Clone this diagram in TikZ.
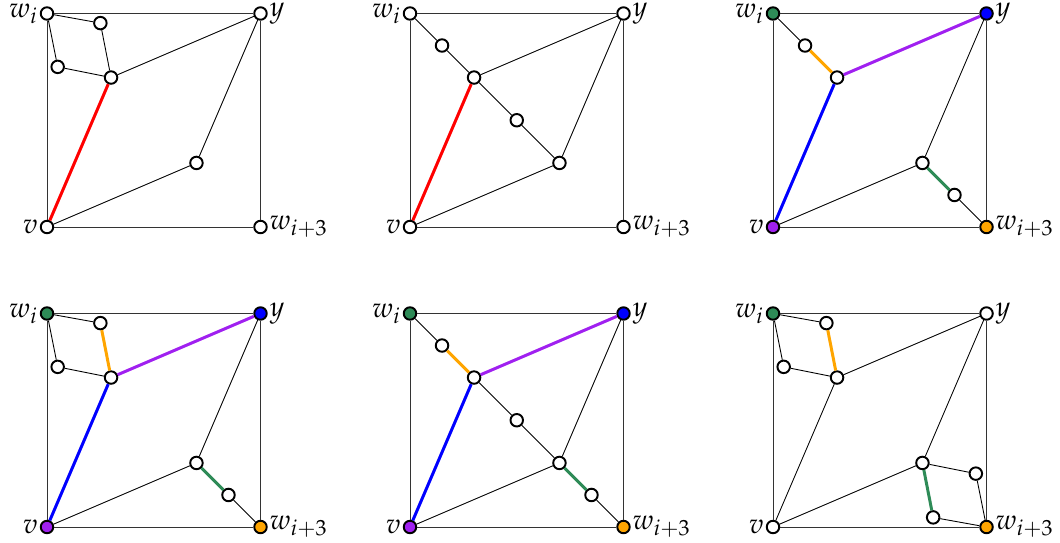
\documentclass[tikz,border=0pt]{standalone}
\usepackage{mathpazo}
\usetikzlibrary{positioning}
\DeclareMathSizes{16}{16}{12.5}{10}

\definecolor{vpurple}{RGB}{160,32,240}
\definecolor{vorange}{RGB}{255,165,0}
\definecolor{vgreen}{RGB}{46,139,87}

\begin{document}
\begin{tikzpicture}[
  vtx/.style   = {circle, draw, line width=1.1pt, fill=white, inner sep=0pt,
                  minimum size=0.25cm},
  lbl/.style   = {inner sep=1pt, font=\fontsize{16}{18}\selectfont},
  frame/.style = {line width=0.5pt, black!80},
  edge/.style  = {line width=0.5pt},
  hot/.style   = {line width=1.7pt},
  node distance = 0pt
]
\useasboundingbox (0,0) rectangle (21.2,10.86);

% ── Panel 1 (top left) ───────────────────────────────────────────────────────
\begin{scope}[shift={(0.94,6.32)}, scale=4.27]
  \node[vtx] (tl-v) at (0,0) {};
  \node[vtx] (tl-w) at (0,1) {};
  \node[vtx] (tl-y) at (1,1) {};
  \node[vtx] (tl-z) at (1,0) {};
  \node[vtx] (tl-a) at (0.25,0.955) {};
  \node[vtx] (tl-b) at (0.05,0.75) {};
  \node[vtx] (tl-c) at (0.30,0.70) {};
  \node[vtx] (tl-d) at (0.70,0.30) {};
\end{scope}
\node[lbl, left=of tl-w]  (tl-wl) {$w_i$};
\node[lbl, right=of tl-y] (tl-yl) {$y$};
\node[lbl, left=of tl-v]  (tl-vl) {$v$};
\node[lbl, right=of tl-z] (tl-zl) {$w_{i+3}$};
\draw[frame] (tl-w) -- (tl-y) -- (tl-z) -- (tl-v) -- (tl-w);
\draw[edge] (tl-w) -- (tl-a) -- (tl-c) -- (tl-b) -- (tl-w);
\draw[edge] (tl-c) -- (tl-y) -- (tl-d) -- (tl-v);
\draw[hot, red] (tl-v) -- (tl-c);

% ── Panel 2 (top middle) ─────────────────────────────────────────────────────
\begin{scope}[shift={(8.20,6.32)}, scale=4.27]
  \node[vtx] (tm-v) at (0,0) {};
  \node[vtx] (tm-w) at (0,1) {};
  \node[vtx] (tm-y) at (1,1) {};
  \node[vtx] (tm-z) at (1,0) {};
  \node[vtx] (tm-p) at (0.15,0.85) {};
  \node[vtx] (tm-c) at (0.30,0.70) {};
  \node[vtx] (tm-q) at (0.50,0.50) {};
  \node[vtx] (tm-d) at (0.70,0.30) {};
\end{scope}
\node[lbl, left=of tm-w]  (tm-wl) {$w_i$};
\node[lbl, right=of tm-y] (tm-yl) {$y$};
\node[lbl, left=of tm-v]  (tm-vl) {$v$};
\node[lbl, right=of tm-z] (tm-zl) {$w_{i+3}$};
\draw[frame] (tm-w) -- (tm-y) -- (tm-z) -- (tm-v) -- (tm-w);
\draw[edge] (tm-w) -- (tm-p) -- (tm-c) -- (tm-q) -- (tm-d);
\draw[edge] (tm-c) -- (tm-y) -- (tm-d) -- (tm-v);
\draw[hot, red] (tm-v) -- (tm-c);

% ── Panel 3 (top right) ──────────────────────────────────────────────────────
\begin{scope}[shift={(15.46,6.32)}, scale=4.27]
  \node[vtx, fill=vpurple] (tr-v) at (0,0) {};
  \node[vtx, fill=vgreen]  (tr-w) at (0,1) {};
  \node[vtx, fill=blue]    (tr-y) at (1,1) {};
  \node[vtx, fill=vorange] (tr-z) at (1,0) {};
  \node[vtx] (tr-p) at (0.15,0.85) {};
  \node[vtx] (tr-c) at (0.30,0.70) {};
  \node[vtx] (tr-d) at (0.70,0.30) {};
  \node[vtx] (tr-r) at (0.85,0.15) {};
\end{scope}
\node[lbl, left=of tr-w]  (tr-wl) {$w_i$};
\node[lbl, right=of tr-y] (tr-yl) {$y$};
\node[lbl, left=of tr-v]  (tr-vl) {$v$};
\node[lbl, right=of tr-z] (tr-zl) {$w_{i+3}$};
\draw[frame] (tr-w) -- (tr-y) -- (tr-z) -- (tr-v) -- (tr-w);
\draw[edge] (tr-w) -- (tr-p);
\draw[edge] (tr-y) -- (tr-d) -- (tr-v);
\draw[edge] (tr-r) -- (tr-z);
\draw[hot, vorange] (tr-p) -- (tr-c);
\draw[hot, vpurple] (tr-c) -- (tr-y);
\draw[hot, blue]    (tr-c) -- (tr-v);
\draw[hot, vgreen]  (tr-d) -- (tr-r);

% ── Panel 4 (bottom left) ────────────────────────────────────────────────────
\begin{scope}[shift={(0.94,0.32)}, scale=4.27]
  \node[vtx, fill=vpurple] (bl-v) at (0,0) {};
  \node[vtx, fill=vgreen]  (bl-w) at (0,1) {};
  \node[vtx, fill=blue]    (bl-y) at (1,1) {};
  \node[vtx, fill=vorange] (bl-z) at (1,0) {};
  \node[vtx] (bl-a) at (0.25,0.955) {};
  \node[vtx] (bl-b) at (0.05,0.75) {};
  \node[vtx] (bl-c) at (0.30,0.70) {};
  \node[vtx] (bl-d) at (0.70,0.30) {};
  \node[vtx] (bl-r) at (0.85,0.15) {};
\end{scope}
\node[lbl, left=of bl-w]  (bl-wl) {$w_i$};
\node[lbl, right=of bl-y] (bl-yl) {$y$};
\node[lbl, left=of bl-v]  (bl-vl) {$v$};
\node[lbl, right=of bl-z] (bl-zl) {$w_{i+3}$};
\draw[frame] (bl-w) -- (bl-y) -- (bl-z) -- (bl-v) -- (bl-w);
\draw[edge] (bl-a) -- (bl-w) -- (bl-b) -- (bl-c);
\draw[edge] (bl-y) -- (bl-d) -- (bl-v);
\draw[edge] (bl-r) -- (bl-z);
\draw[hot, vorange] (bl-a) -- (bl-c);
\draw[hot, vpurple] (bl-c) -- (bl-y);
\draw[hot, blue]    (bl-c) -- (bl-v);
\draw[hot, vgreen]  (bl-d) -- (bl-r);

% ── Panel 5 (bottom middle) ──────────────────────────────────────────────────
\begin{scope}[shift={(8.20,0.32)}, scale=4.27]
  \node[vtx, fill=vpurple] (bm-v) at (0,0) {};
  \node[vtx, fill=vgreen]  (bm-w) at (0,1) {};
  \node[vtx, fill=blue]    (bm-y) at (1,1) {};
  \node[vtx, fill=vorange] (bm-z) at (1,0) {};
  \node[vtx] (bm-p) at (0.15,0.85) {};
  \node[vtx] (bm-c) at (0.30,0.70) {};
  \node[vtx] (bm-q) at (0.50,0.50) {};
  \node[vtx] (bm-d) at (0.70,0.30) {};
  \node[vtx] (bm-r) at (0.85,0.15) {};
\end{scope}
\node[lbl, left=of bm-w]  (bm-wl) {$w_i$};
\node[lbl, right=of bm-y] (bm-yl) {$y$};
\node[lbl, left=of bm-v]  (bm-vl) {$v$};
\node[lbl, right=of bm-z] (bm-zl) {$w_{i+3}$};
\draw[frame] (bm-w) -- (bm-y) -- (bm-z) -- (bm-v) -- (bm-w);
\draw[edge] (bm-w) -- (bm-p);
\draw[edge] (bm-c) -- (bm-q) -- (bm-d);
\draw[edge] (bm-y) -- (bm-d) -- (bm-v);
\draw[edge] (bm-r) -- (bm-z);
\draw[hot, vorange] (bm-p) -- (bm-c);
\draw[hot, vpurple] (bm-c) -- (bm-y);
\draw[hot, blue]    (bm-c) -- (bm-v);
\draw[hot, vgreen]  (bm-d) -- (bm-r);

% ── Panel 6 (bottom right) ───────────────────────────────────────────────────
\begin{scope}[shift={(15.46,0.32)}, scale=4.27]
  \node[vtx]               (br-v) at (0,0) {};
  \node[vtx, fill=vgreen]  (br-w) at (0,1) {};
  \node[vtx]               (br-y) at (1,1) {};
  \node[vtx, fill=vorange] (br-z) at (1,0) {};
  \node[vtx] (br-a) at (0.25,0.955) {};
  \node[vtx] (br-b) at (0.05,0.75) {};
  \node[vtx] (br-c) at (0.30,0.70) {};
  \node[vtx] (br-d) at (0.70,0.30) {};
  \node[vtx] (br-e) at (0.95,0.25) {};
  \node[vtx] (br-f) at (0.75,0.045) {};
\end{scope}
\node[lbl, left=of br-w]  (br-wl) {$w_i$};
\node[lbl, right=of br-y] (br-yl) {$y$};
\node[lbl, left=of br-v]  (br-vl) {$v$};
\node[lbl, right=of br-z] (br-zl) {$w_{i+3}$};
\draw[frame] (br-w) -- (br-y) -- (br-z) -- (br-v) -- (br-w);
\draw[edge] (br-a) -- (br-w) -- (br-b) -- (br-c);
\draw[edge] (br-c) -- (br-y) -- (br-d) -- (br-v) -- (br-c);
\draw[edge] (br-d) -- (br-e) -- (br-z) -- (br-f);
\draw[hot, vorange] (br-a) -- (br-c);
\draw[hot, vgreen]  (br-d) -- (br-f);

\end{tikzpicture}
\end{document}
